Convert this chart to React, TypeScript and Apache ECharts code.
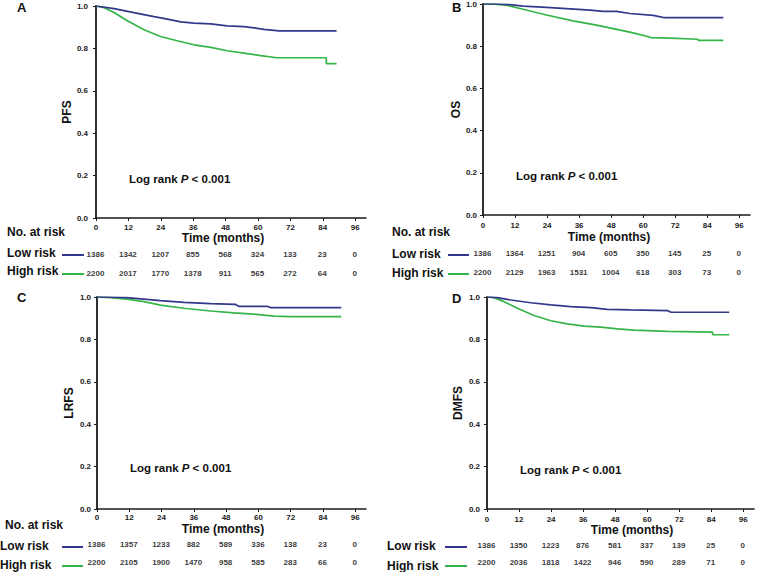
import React, { useEffect, useRef } from "react";
import * as echarts from "echarts";

// ---- data ----
const months = [0, 12, 24, 36, 48, 60, 72, 84, 96];
const yTicks = [0, 0.2, 0.4, 0.6, 0.8, 1.0];

const pfsLowRisk = [1386, 1342, 1207, 855, 568, 324, 133, 23, 0];
const pfsHighRisk = [2200, 2017, 1770, 1378, 911, 565, 272, 64, 0];
const osLowRisk = [1386, 1364, 1251, 904, 605, 350, 145, 25, 0];
const osHighRisk = [2200, 2129, 1963, 1531, 1004, 618, 303, 73, 0];
const lrfsLowRisk = [1386, 1357, 1233, 882, 589, 336, 138, 23, 0];
const lrfsHighRisk = [2200, 2105, 1900, 1470, 958, 585, 283, 66, 0];
const dmfsLowRisk = [1386, 1350, 1223, 876, 581, 337, 139, 25, 0];
const dmfsHighRisk = [2200, 2036, 1818, 1422, 946, 590, 289, 71, 0];

const pfsLowCurve = [[0, 1], [6.7, 0.988], [14, 0.969], [21.5, 0.95], [26.4, 0.938], [31.4, 0.925], [36.3, 0.919], [42.5, 0.916], [48.6, 0.906], [54.8, 0.903], [62.2, 0.89], [67.8, 0.883], [89.1, 0.883]];
const pfsHighCurve = [[0, 1], [3, 0.992], [6.7, 0.969], [11.6, 0.93], [17.8, 0.888], [23.9, 0.856], [30, 0.836], [36.3, 0.817], [42.5, 0.805], [48.6, 0.789], [54.8, 0.778], [61, 0.766], [67, 0.756], [85.3, 0.756], [85.3, 0.728], [89.1, 0.728]];
const osLowCurve = [[0, 1], [5, 1], [10, 0.997], [15, 0.99], [23.75, 0.984], [31.25, 0.978], [40, 0.971], [45, 0.965], [50, 0.965], [55, 0.955], [63.75, 0.946], [66, 0.94], [68, 0.935], [90, 0.935]];
const osHighCurve = [[0, 1], [4, 0.999], [8.75, 0.994], [15, 0.975], [23.75, 0.948], [33.75, 0.92], [42.5, 0.9], [48.75, 0.883], [56.25, 0.863], [63, 0.841], [70, 0.838], [80.5, 0.833], [80.6, 0.828], [90, 0.828]];
const lrfsLowCurve = [[0, 1], [11.2, 0.997], [17.4, 0.99], [23.6, 0.983], [32.3, 0.975], [42.2, 0.969], [51.5, 0.965], [52.7, 0.956], [63.3, 0.956], [64.5, 0.95], [90.8, 0.95]];
const lrfsHighCurve = [[0, 1], [5, 0.997], [11.2, 0.99], [17.4, 0.978], [23.6, 0.962], [32.3, 0.947], [42.2, 0.934], [50.9, 0.925], [58.3, 0.919], [65.8, 0.91], [72, 0.907], [90.8, 0.907]];
const dmfsLowCurve = [[0, 1], [3.9, 0.997], [8.9, 0.986], [16.4, 0.973], [23.9, 0.963], [31.4, 0.955], [38.9, 0.95], [45, 0.942], [53.9, 0.939], [67.6, 0.936], [68.9, 0.928], [90.75, 0.928]];
const dmfsHighCurve = [[0, 1], [2.6, 0.997], [6.4, 0.978], [11.4, 0.947], [17.6, 0.913], [23.9, 0.888], [30.1, 0.873], [36.4, 0.863], [42.6, 0.858], [48.9, 0.85], [55.1, 0.844], [67.6, 0.838], [84.5, 0.834], [84.5, 0.822], [90.75, 0.822]];

const riskGroups = ["Low risk", "High risk"];
const panelLetters = ["A", "B", "C", "D"];
const endpointNames = ["PFS", "OS", "LRFS", "DMFS"];

// ---- styling / layout ----
const FONT = "'Liberation Sans', Arial, Helvetica, sans-serif";
const BLUE = "#34388a";
const GREEN = "#35b548";
const AXIS = "#1a1a1a";

const panels = [
  {
    letter: panelLetters[0], name: endpointNames[0], low: pfsLowCurve, high: pfsHighCurve, lowRisk: pfsLowRisk, highRisk: pfsHighRisk,
    grid: { left: 96, top: 6, width: 270, height: 212 }, risk: { left: 96, top: 245.5, width: 270, height: 38 },
    yLabelMargin: 8, xLabelMargin: 5, xNameGap: 13, xNamePad: [0, 16, 0, 0], yNameGap: 21,
    letterPos: [17, 7.5], logRank: [129, 179], noAtRisk: [7, 232], lowLabel: [7, 253], lowLine: [62, 84, 255], highLabel: [7, 271], highLine: [62, 84, 274],
  },
  {
    letter: panelLetters[1], name: endpointNames[1], low: osLowCurve, high: osHighCurve, lowRisk: osLowRisk, highRisk: osHighRisk,
    grid: { left: 483, top: 4, width: 267, height: 211 }, risk: { left: 483, top: 244.5, width: 267, height: 38 },
    yLabelMargin: 6, xLabelMargin: 6, xNameGap: 16, xNamePad: [0, 15, 0, 0], yNameGap: 21,
    letterPos: [452, 7.5], logRank: [516, 176], noAtRisk: [392, 232], lowLabel: [392, 254], lowLine: [448, 469, 255], highLabel: [392, 273], highLine: [448, 469, 274],
  },
  {
    letter: panelLetters[2], name: endpointNames[2], low: lrfsLowCurve, high: lrfsHighCurve, lowRisk: lrfsLowRisk, highRisk: lrfsHighRisk,
    grid: { left: 97, top: 297, width: 269, height: 212 }, risk: { left: 97, top: 536, width: 269, height: 40 },
    yLabelMargin: 6, xLabelMargin: 4, xNameGap: 14, xNamePad: [0, 17, 0, 0], yNameGap: 22,
    letterPos: [17, 297], logRank: [130, 468], noAtRisk: [5, 525], lowLabel: [0, 546], lowLine: [62, 83, 547], highLabel: [0, 565], highLine: [62, 83, 566],
  },
  {
    letter: panelLetters[3], name: endpointNames[3], low: dmfsLowCurve, high: dmfsHighCurve, lowRisk: dmfsLowRisk, highRisk: dmfsHighRisk,
    grid: { left: 487, top: 297, width: 267, height: 212 }, risk: { left: 487, top: 537, width: 267, height: 40 },
    yLabelMargin: 7, xLabelMargin: 6, xNameGap: 12, xNamePad: [0, 0, 0, 23], yNameGap: 23,
    letterPos: [452, 298], logRank: [520, 470], noAtRisk: null, lowLabel: [387, 546], lowLine: [445, 467, 547], highLabel: [387, 566], highLine: [445, 467, 566],
  },
];

function buildOption() {
  const grid: any[] = [];
  const xAxis: any[] = [];
  const yAxis: any[] = [];
  const series: any[] = [];
  const graphic: any[] = [];

  panels.forEach((p, i) => {
    const gMain = i * 2;
    const gRisk = i * 2 + 1;
    grid.push({ ...p.grid, containLabel: false });
    grid.push({ ...p.risk, containLabel: false });

    xAxis.push({
      gridIndex: gMain, type: "value", min: 0, max: 100, interval: 12,
      axisLine: { show: true, lineStyle: { color: AXIS, width: 1.5 } },
      axisTick: { show: true, length: 3, customValues: months, lineStyle: { color: AXIS, width: 1 } },
      axisLabel: { customValues: months, fontSize: 8, fontWeight: "bold", color: AXIS, margin: p.xLabelMargin, fontFamily: FONT },
      splitLine: { show: false },
      name: "Time (months)", nameLocation: "middle", nameGap: p.xNameGap,
      nameTextStyle: { fontSize: 12, fontWeight: "bold", color: "#111", fontFamily: FONT, padding: p.xNamePad },
    });
    xAxis.push({ gridIndex: gRisk, type: "value", min: 0, max: 100, show: false });

    yAxis.push({
      gridIndex: gMain, type: "value", min: 0, max: 1, interval: 0.2,
      axisLine: { show: true, lineStyle: { color: AXIS, width: 1.8 } },
      axisTick: { show: true, length: 3, customValues: yTicks, lineStyle: { color: AXIS, width: 1 } },
      axisLabel: { customValues: yTicks, formatter: (v: number) => v.toFixed(1), fontSize: 8, fontWeight: "bold", color: AXIS, margin: p.yLabelMargin, fontFamily: FONT },
      splitLine: { show: false },
      name: p.name, nameLocation: "middle", nameGap: p.yNameGap, nameRotate: 90,
      nameTextStyle: { fontSize: 12, fontWeight: "bold", color: "#111", fontFamily: FONT },
    });
    yAxis.push({ gridIndex: gRisk, type: "category", data: riskGroups, inverse: true, show: false });

    series.push({
      type: "line", xAxisIndex: gMain, yAxisIndex: gMain, data: p.low, symbol: "none", showSymbol: false,
      lineStyle: { color: BLUE, width: 1.7 }, itemStyle: { color: BLUE }, z: 3,
    });
    series.push({
      type: "line", xAxisIndex: gMain, yAxisIndex: gMain, data: p.high, symbol: "none", showSymbol: false,
      lineStyle: { color: GREEN, width: 1.7 }, itemStyle: { color: GREEN }, z: 2,
    });

    const riskData: any[] = [];
    months.forEach((m, k) => {
      riskData.push([m, 0, p.lowRisk[k]]);
      riskData.push([m, 1, p.highRisk[k]]);
    });
    series.push({
      type: "scatter", xAxisIndex: gRisk, yAxisIndex: gRisk, data: riskData, symbolSize: 1,
      itemStyle: { color: "#ffffff" }, silent: true, z: 1,
      label: {
        show: true, position: [0, 0], align: "center", verticalAlign: "middle",
        formatter: (d: any) => String(d.value[2]),
        fontSize: 8, fontWeight: "bold", color: "#000000", fontFamily: FONT, textBorderWidth: 0,
      },
    });

    graphic.push({
      type: "text", x: p.letterPos[0], y: p.letterPos[1],
      style: { text: p.letter, font: `bold 13px ${FONT}`, fill: "#111", textVerticalAlign: "middle" },
    });
    graphic.push({
      type: "text", x: p.logRank[0], y: p.logRank[1],
      style: {
        text: "{a|Log rank }{b|P}{a| < 0.001}", textVerticalAlign: "middle",
        rich: {
          a: { fontSize: 11.5, fontWeight: "bold", fontFamily: FONT, fill: "#111" },
          b: { fontSize: 11.5, fontWeight: "bold", fontStyle: "italic", fontFamily: FONT, fill: "#111" },
        },
      },
    });
    if (p.noAtRisk) {
      graphic.push({
        type: "text", x: p.noAtRisk[0], y: p.noAtRisk[1],
        style: { text: "No. at risk", font: `bold 12px ${FONT}`, fill: "#111", textVerticalAlign: "middle" },
      });
    }
    graphic.push({
      type: "text", x: p.lowLabel[0], y: p.lowLabel[1],
      style: { text: riskGroups[0], font: `bold 12px ${FONT}`, fill: "#111", textVerticalAlign: "middle" },
    });
    graphic.push({
      type: "text", x: p.highLabel[0], y: p.highLabel[1],
      style: { text: riskGroups[1], font: `bold 12px ${FONT}`, fill: "#111", textVerticalAlign: "middle" },
    });
    graphic.push({
      type: "line", shape: { x1: p.lowLine[0], y1: p.lowLine[2], x2: p.lowLine[1], y2: p.lowLine[2] },
      style: { stroke: BLUE, lineWidth: 2 },
    });
    graphic.push({
      type: "line", shape: { x1: p.highLine[0], y1: p.highLine[2], x2: p.highLine[1], y2: p.highLine[2] },
      style: { stroke: GREEN, lineWidth: 2 },
    });
  });

  return {
    animation: false,
    backgroundColor: "#ffffff",
    textStyle: { fontFamily: FONT },
    grid, xAxis, yAxis, series, graphic,
  };
}

export default function App() {
  const ref = useRef<HTMLDivElement>(null);
  useEffect(() => {
    if (!ref.current) return;
    const chart = echarts.init(ref.current, undefined, { renderer: "svg" });
    chart.setOption(buildOption() as any);
    return () => chart.dispose();
  }, []);
  return (
    <div
      ref={ref}
      style={{ position: "absolute", left: 0, top: 0, width: 758, height: 572, background: "#fff" }}
    />
  );
}
